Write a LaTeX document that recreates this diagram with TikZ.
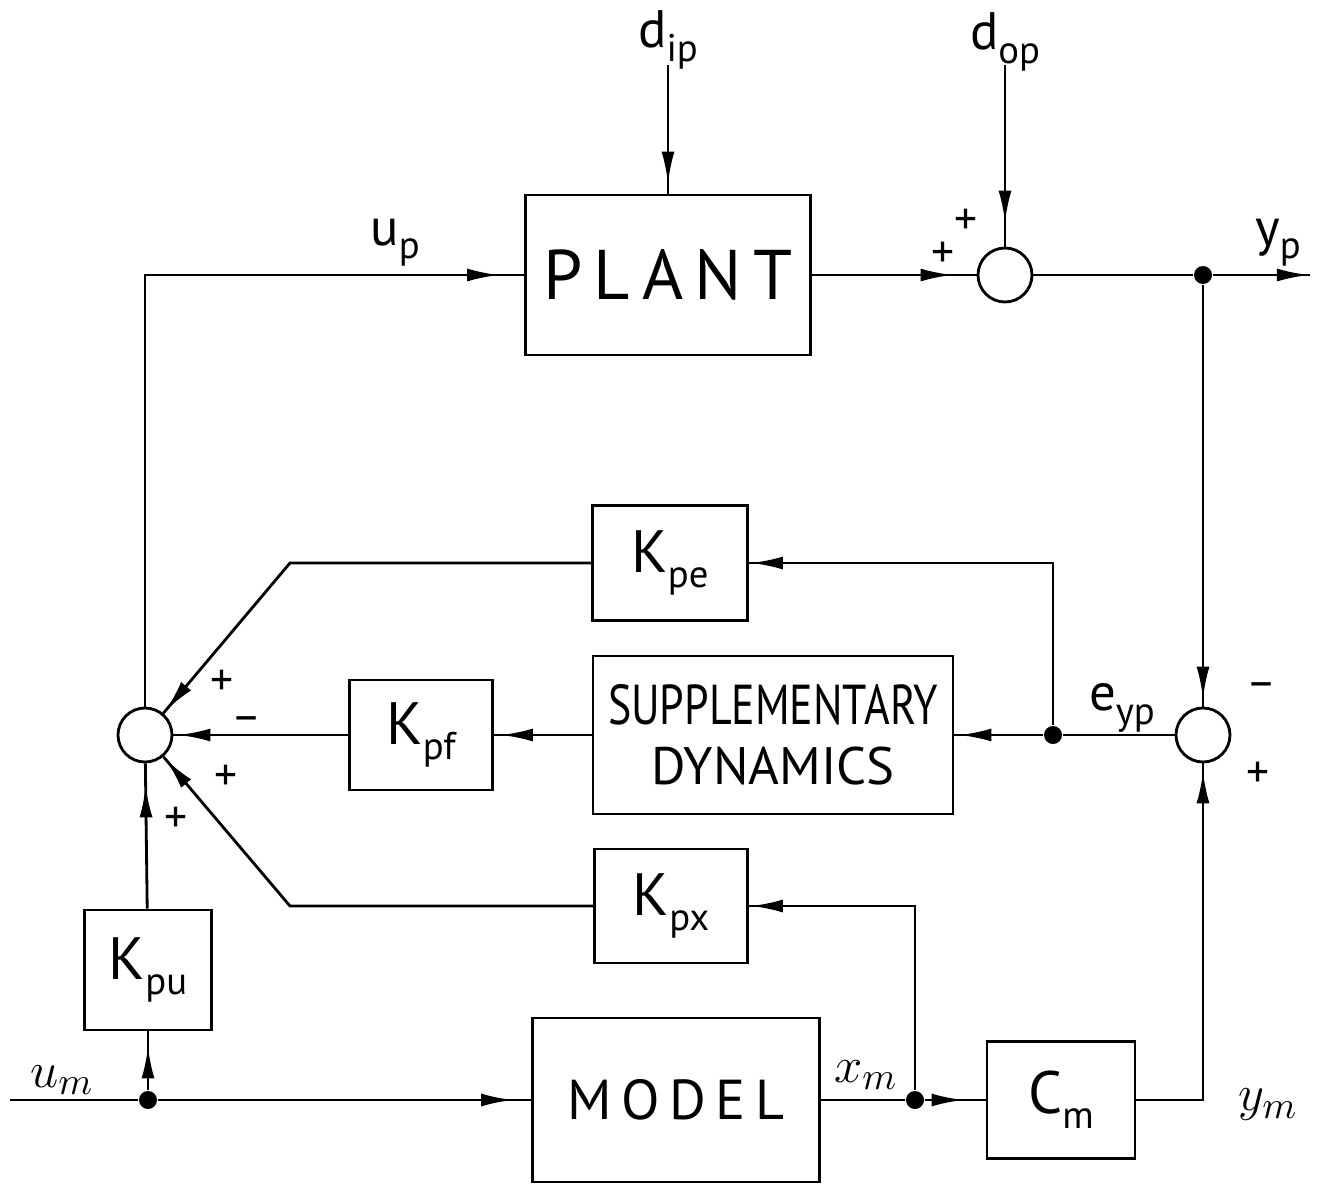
\documentclass[tikz,border=0pt]{standalone}
\usepackage{fontspec}
\setmainfont{PT Sans}
\newfontfamily\narrowfont[FakeStretch=0.78]{PT Sans}
\usetikzlibrary{arrows.meta,decorations.markings}

\newcommand{\subtxt}[1]{\raisebox{-0.5ex}{\fontsize{11}{11}\selectfont #1}}

\begin{document}
\begin{tikzpicture}[
    x=0.1mm, y=-0.1mm,
    font=\fontsize{15}{17}\selectfont,
    line width=0.8pt,
    blk/.style 2 args={draw, minimum width=#1, minimum height=#2,
                       inner sep=0pt, align=center},
    sumc/.style={draw, circle, minimum size=5.4mm, inner sep=0pt},
    dot/.style={circle, fill, minimum size=1.8mm, inner sep=0pt},
    lab/.style={inner sep=1pt},
    sgn/.style={inner sep=0pt, font=\fontsize{13}{13}\selectfont},
    marr/.style={postaction={decorate}, decoration={markings,
        mark=at position #1 with {\arrow{Latex[length=3.2mm,width=1.3mm]}}}},
    marr/.default=-1mm,
  ]
  \useasboundingbox (0,0) rectangle (1326,1191);

  %% ---- blocks ------------------------------------------------------
  \node[blk={28.5mm}{16mm}]   (plant) at (668,275)  {\fontsize{20}{22}\selectfont P\,L\,A\,N\,T};
  \node[blk={15.5mm}{11.5mm}] (kpe)   at (670,563)  {\fontsize{17}{19}\selectfont K\subtxt{pe}};
  \node[blk={36mm}{15.8mm}]   (supp)  at (773,735)
    {\narrowfont\fontsize{16}{24}\selectfont SUPPLEMENTARY\\DYNAMICS};
  \node[blk={14.3mm}{11mm}]   (kpf)   at (421,735)  {\fontsize{17}{19}\selectfont K\subtxt{pf}};
  \node[blk={15.3mm}{11.4mm}] (kpx)   at (671,906)  {\fontsize{17}{19}\selectfont K\subtxt{px}};
  \node[blk={12.7mm}{12mm}]   (kpu)   at (148,970)  {\fontsize{17}{19}\selectfont K\subtxt{pu}};
  \node[blk={28.7mm}{16.4mm}] (model) at (676,1100) {\fontsize{16}{18}\selectfont M\,O\,D\,E\,L};
  \node[blk={14.8mm}{11.7mm}] (cm)    at (1061,1100) {\fontsize{17}{19}\selectfont C\subtxt{m}};

  %% ---- summing junctions and branch points -------------------------
  \node[sumc] (sumL) at (145,735) {};
  \node[sumc] (sumT) at (1005,275) {};
  \node[sumc] (sumR) at (1203,735) {};

  \node[dot] (jy) at (1203,275) {};
  \node[dot] (je) at (1053,735) {};
  \node[dot] (jm) at (148,1100) {};
  \node[dot] (jx) at (915,1100) {};

  \coordinate (dipT)  at (668,65);
  \coordinate (dopT)  at (1005,65);
  \coordinate (yout)  at (1310,275);
  \coordinate (uin)   at (10,1100);
  \coordinate (bendE) at (290,563);
  \coordinate (bendX) at (290,906);

  %% ---- forward path ------------------------------------------------
  \draw[marr=-1mm]   (dipT) -- (plant);
  \draw[marr=-2.4mm] (dopT) -- (sumT);
  \draw[marr=-2.4mm] (plant) -- (sumT);
  \draw (sumT) -- (jy);
  \draw[marr=-0.3pt] (jy) -- (yout);
  \draw[marr=-2.5mm] (sumL) |- (plant);

  %% ---- output error ------------------------------------------------
  \draw[marr=-0.8mm] (jy) -- (sumR);
  \draw[marr=-0.8mm] (cm) -| (sumR);
  \draw (sumR) -- (je);
  \draw[marr=-0.5mm] (je) -- (supp);
  \draw[marr=-0.2mm] (je) |- (kpe);

  %% ---- gains into left junction ------------------------------------
  \draw[marr=-0.7mm] (supp) -- (kpf);
  \draw[marr=-0.5mm] (kpf) -- (sumL);
  \draw[marr=-0.3mm] (kpe) -- (bendE) -- (sumL);
  \draw[marr=-0.3mm] (kpx) -- (bendX) -- (sumL);
  \draw[marr=-2.2mm] (kpu) -- (sumL);

  %% ---- model path --------------------------------------------------
  \draw (uin) -- (jm);
  \draw[marr=-1.5mm] (jm) -- (kpu);
  \draw[marr=-1.8mm] (jm) -- (model);
  \draw (model) -- (jx);
  \draw[marr=-2.2mm] (jx) -- (cm);
  \draw[marr=-0.2mm] (jx) |- (kpx);

  %% ---- signal labels -----------------------------------------------
  \node[lab] (ldip) at (668,40)   {d\subtxt{ip}};
  \node[lab] (ldop) at (1005,42)  {d\subtxt{op}};
  \node[lab] (lup)  at (395,243)  {u\subtxt{p}};
  \node[lab] (lyp)  at (1278,243) {y\subtxt{p}};
  \node[lab] (leyp) at (1122,708) {e\subtxt{yp}};
  \node[lab] (lum)  at (62,1080)  {$u_m$};
  \node[lab] (lxm)  at (866,1075) {$x_m$};
  \node[lab] (lym)  at (1268,1105) {$y_m$};

  %% ---- signs -------------------------------------------------------
  \node[sgn] (sT1) at (943,255)  {+};
  \node[sgn] (sT2) at (966,222)  {+};
  \node[sgn] (sR1) at (1262,690) {--};
  \node[sgn] (sR2) at (1258,775) {+};
  \node[sgn] (sL1) at (222,683)  {+};
  \node[sgn] (sL2) at (247,724)  {--};
  \node[sgn] (sL3) at (226,778)  {+};
  \node[sgn] (sL4) at (176,820)  {+};
\end{tikzpicture}
\end{document}
